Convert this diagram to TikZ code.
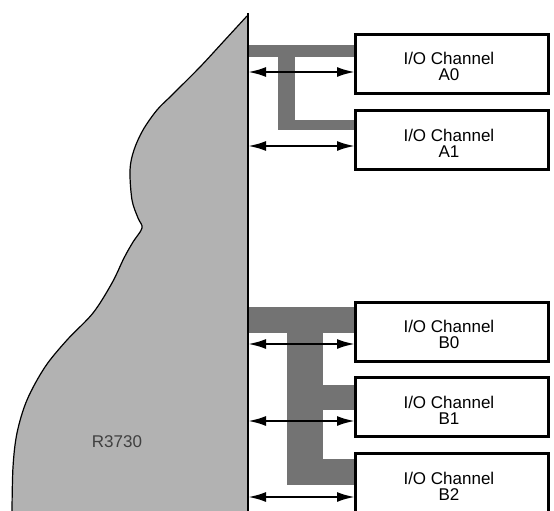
\documentclass[tikz,border=0pt]{standalone}
\usepackage{fontspec}
\setmainfont{Liberation Sans}
\usetikzlibrary{arrows.meta}
\begin{document}
\begin{tikzpicture}[x=1pt,y=-1pt,
  chanbox/.style={draw=black,line width=1.8pt,fill=white,minimum width=192pt,minimum height=58pt,inner sep=0pt,anchor=north west},
  chantext/.style={align=center,font=\fontsize{17}{16}\selectfont},
  busfill/.style={fill=black!55},
  iolink/.style={line width=2.4pt,>={Latex[length=18pt,width=10pt]},<->},
  blobfill/.style={fill=black!30}]
\useasboundingbox (0,0) rectangle (554,511);
% blob
\fill[blobfill] (248,511) -- (247,16) -- plot[smooth,tension=0.55] coordinates {(247,16) (224,41) (200,67) (172,95) (157,110) (143,130) (134,150) (130,170) (132,200) (138,218) (142,228) (133,242) (124,258) (112,283) (93,313) (67,340) (45,367) (27,400) (17,433) (13,467) (12,511)} -- cycle;
\draw[line width=1.2pt] plot[smooth,tension=0.55] coordinates {(247,16) (224,41) (200,67) (172,95) (157,110) (143,130) (134,150) (130,170) (132,200) (138,218) (142,228) (133,242) (124,258) (112,283) (93,313) (67,340) (45,367) (27,400) (17,433) (13,467) (12,511)};
\node[font=\fontsize{17}{17}\selectfont,text=black!75] (r3730) at (117,442) {R3730};
% channel boxes
\node[chanbox] (a0) at (355,34) {};
\node[chanbox] (a1) at (355,110) {};
\node[chanbox] (b0) at (355,302) {};
\node[chanbox] (b1) at (355,377) {};
\node[chanbox] (b2) at (355,453) {};
\foreach \n/\t in {a0/A0,a1/A1,b0/B0,b1/B1,b2/B2}
  \node[chantext] (\n text) at ([xshift=-3pt,yshift=-3pt]\n.center) {I/O Channel\\\t};
% buses
\fill[busfill] (248,45) rectangle (355,57);
\fill[busfill] (278,57) rectangle (295,130);
\fill[busfill] (295,120) rectangle (355,130);
\fill[busfill] (248,307) rectangle (355,333);
\fill[busfill] (287,333) rectangle (323,485);
\fill[busfill] (323,385) rectangle (355,410);
\fill[busfill] (323,459) rectangle (355,485);
% redraw box borders over buses
\foreach \n in {a0,a1,b0,b1,b2} \draw[line width=1.8pt] (\n.north west) rectangle (\n.south east);
% vertical line
\coordinate (ltop) at (248,13);
\coordinate (lbot) at (248,511);
\draw[line width=1.8pt] (ltop) -- (lbot);
% connectors
\coordinate (pa0) at (248,72);
\coordinate (pa1) at (248,146);
\coordinate (pb0) at (248,344);
\coordinate (pb1) at (248,421);
\coordinate (pb2) at (248,497);
\draw[iolink] (pa0) -- (pa0 -| a0.west);
\draw[iolink] (pa1) -- (pa1 -| a1.west);
\draw[iolink] (pb0) -- (pb0 -| b0.west);
\draw[iolink] (pb1) -- (pb1 -| b1.west);
\draw[iolink] (pb2) -- (pb2 -| b2.west);
\end{tikzpicture}
\end{document}
